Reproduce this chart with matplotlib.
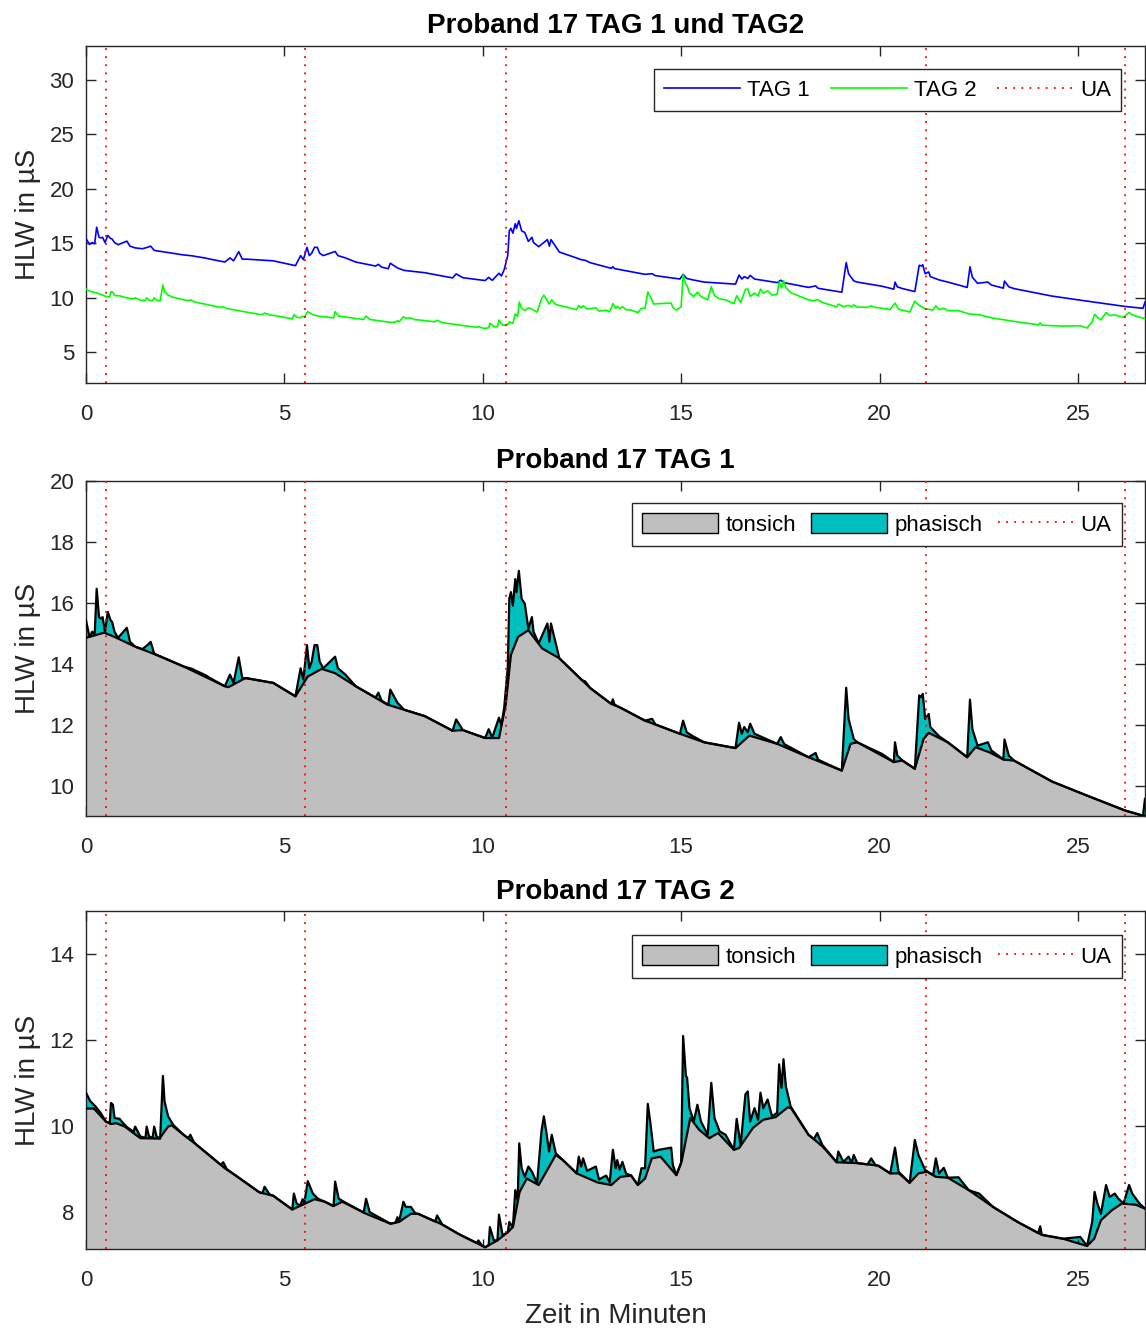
import numpy as np
import matplotlib
matplotlib.use("Agg")
import matplotlib.pyplot as plt
import matplotlib.patches as mpatches
from matplotlib.lines import Line2D

# =========================================================
# DATA
# =========================================================

UA_TIMES = [0.504, 5.52, 10.58, 21.17, 26.18]

# TAG 1 raw skin conductance
T1_RAW_T = [0.00, 0.09, 0.16, 0.22, 0.27, 0.33, 0.37, 0.42, 0.48, 0.55, 0.62, 0.66, 0.72, 0.81,
            1.03, 1.11, 1.24, 1.42, 1.55, 1.63, 1.72, 2.46, 2.68, 2.75, 3.02, 3.10, 3.50, 3.63,
            3.72, 3.85, 3.94, 4.07, 4.72, 5.28, 5.41, 5.48, 5.57, 5.63, 5.69, 5.76, 5.83, 5.89,
            5.98, 6.28, 6.35, 6.54, 6.72, 6.80, 7.30, 7.37, 7.45, 7.62, 7.67, 7.85, 8.02, 8.54,
            9.24, 9.33, 9.50, 10.06, 10.15, 10.24, 10.41, 10.47, 10.54, 10.63, 10.67, 10.71,
            10.76, 10.82, 10.85, 10.91, 10.98, 11.06, 11.15, 11.24, 11.28, 11.41, 11.63, 11.68,
            11.72, 11.81, 11.93, 12.50, 12.58, 12.71, 13.24, 13.28, 13.32, 13.48, 14.09, 14.27,
            14.35, 14.97, 15.05, 15.14, 15.27, 15.58, 16.37, 16.46, 16.53, 16.59, 16.68, 16.74,
            16.85, 17.42, 17.51, 17.60, 18.21, 18.39, 18.45, 19.05, 19.16, 19.22, 19.35, 19.44,
            20.06, 20.36, 20.39, 20.45, 20.58, 20.89, 21.00, 21.06, 21.09, 21.15, 21.24, 21.28,
            21.50, 21.72, 22.21, 22.28, 22.34, 22.47, 22.73, 22.82, 23.12, 23.15, 23.26, 23.39,
            24.35, 25.23, 26.19, 26.64, 26.69]
T1_RAW = [15.43, 14.88, 15.05, 14.94, 16.46, 15.53, 15.48, 15.53, 15.05, 15.70, 15.43, 15.37, 15.05, 14.85,
          15.18, 14.72, 14.56, 14.48, 14.61, 14.72, 14.33, 13.91, 13.83, 13.78, 13.62, 13.55, 13.26, 13.64,
          13.37, 14.21, 13.53, 13.52, 13.37, 12.93, 13.85, 13.48, 14.61, 13.85, 14.07, 14.61, 14.61, 14.07,
          13.85, 14.23, 13.85, 13.64, 13.38, 13.26, 12.89, 13.05, 12.79, 12.65, 13.15, 12.72, 12.49, 12.28,
          11.80, 12.17, 11.82, 11.56, 11.85, 11.58, 12.23, 11.98, 12.55, 13.85, 16.13, 16.35,
          15.91, 16.78, 16.35, 17.05, 16.13, 15.97, 15.15, 15.53, 15.05, 14.67, 15.32, 14.72,
          15.32, 14.83, 14.18, 13.46, 13.42, 13.20, 12.68, 12.83, 12.66, 12.55, 12.13, 12.19,
          12.01, 11.70, 12.13, 11.75, 11.64, 11.42, 11.23, 12.06, 11.70, 11.92, 11.75, 12.03,
          11.70, 11.37, 11.59, 11.36, 10.93, 11.07, 10.85, 10.49, 13.21, 12.19, 11.53, 11.42,
          11.04, 10.77, 11.42, 10.98, 10.82, 10.55, 12.96, 12.90, 13.01, 12.19, 12.35, 11.92,
          11.62, 11.42, 10.93, 12.82, 11.86, 11.31, 11.42, 11.15, 10.86, 11.51, 10.98, 10.82,
          10.13, 9.67, 9.18, 9.01, 9.56]

# TAG 1 tonic level
T1_TON_T = [0.00, 0.46, 0.72, 1.24, 1.68, 2.46, 3.50, 3.59, 4.02, 4.72, 5.28, 5.59, 5.94, 6.28,
            6.80, 7.59, 8.54, 9.24, 9.50, 10.06, 10.41, 10.58, 10.71, 10.89, 11.15, 11.50, 11.93,
            12.71, 13.24, 13.48, 14.09, 14.97, 15.58, 16.37, 16.72, 17.42, 18.21, 19.05, 19.27,
            19.44, 20.36, 20.58, 20.89, 21.11, 21.24, 21.72, 22.21, 22.42, 22.77, 23.13, 23.39,
            24.35, 25.23, 26.19, 26.64, 26.69]
T1_TON = [14.85, 15.02, 14.88, 14.56, 14.34, 13.91, 13.26, 13.23, 13.53, 13.37, 12.93, 13.58, 13.83, 13.69,
          13.26, 12.66, 12.28, 11.80, 11.82, 11.56, 11.56, 12.66, 14.29, 14.88, 15.10, 14.50, 14.18,
          13.20, 12.68, 12.55, 12.13, 11.70, 11.42, 11.23, 11.64, 11.37, 10.93, 10.49, 11.37,
          11.42, 10.77, 10.82, 10.55, 11.53, 11.73, 11.42, 10.93, 11.26, 11.09, 10.85, 10.82,
          10.13, 9.67, 9.18, 9.01, 9.01]

# TAG 2 raw skin conductance
T2_RAW_T = [0.00, 0.11, 0.24, 0.37, 0.50, 0.60, 0.63, 0.68, 0.72, 0.85, 0.90, 1.03, 1.20, 1.24,
            1.37, 1.50, 1.53, 1.59, 1.68, 1.72, 1.78, 1.87, 1.94, 1.98, 2.07, 2.20, 2.46, 2.58,
            2.63, 2.72, 2.81, 3.40, 3.46, 3.55, 3.76, 4.37, 4.45, 4.50, 4.63, 4.72, 5.20, 5.24,
            5.31, 5.40, 5.46, 5.50, 5.59, 5.72, 5.85, 6.02, 6.24, 6.28, 6.37, 6.54, 7.00, 7.06,
            7.15, 7.67, 7.80, 7.85, 7.89, 8.00, 8.06, 8.19, 8.30, 8.37, 8.80, 8.85, 8.98, 9.41,
            9.85, 9.89, 9.98, 10.06, 10.15, 10.18, 10.28, 10.37, 10.41, 10.50, 10.63, 10.67,
            10.76, 10.82, 10.88, 10.92, 10.98, 11.06, 11.15, 11.24, 11.37, 11.48, 11.54, 11.60,
            11.67, 11.74, 11.84, 12.02, 12.37, 12.42, 12.48, 12.53, 12.63, 12.85, 12.93, 13.11,
            13.20, 13.28, 13.35, 13.39, 13.45, 13.52, 13.61, 13.74, 13.91, 14.00, 14.09, 14.16,
            14.22, 14.31, 14.44, 14.75, 14.79, 14.88, 15.00, 15.05, 15.12, 15.15, 15.21, 15.32,
            15.41, 15.50, 15.67, 15.76, 15.84, 15.97, 16.12, 16.33, 16.40, 16.50, 16.62, 16.68,
            16.74, 16.85, 16.94, 17.00, 17.07, 17.18, 17.29, 17.42, 17.47, 17.53, 17.58, 17.64,
            17.76, 18.21, 18.35, 18.43, 18.56, 18.92, 18.96, 19.09, 19.22, 19.30, 19.35, 19.44,
            19.70, 19.79, 19.90, 19.97, 20.27, 20.39, 20.48, 20.76, 20.89, 20.98, 21.15, 21.35,
            21.42, 21.50, 21.62, 21.72, 21.99, 22.25, 22.51, 22.86, 23.48, 24.00, 24.05, 24.09,
            24.62, 25.06, 25.23, 25.36, 25.42, 25.49, 25.58, 25.71, 25.80, 25.93, 26.02, 26.15,
            26.29, 26.37, 26.55, 26.69]
T2_RAW = [10.77, 10.57, 10.45, 10.30, 10.10, 10.06, 10.53, 10.49, 10.18, 10.16, 10.10, 9.97, 9.86, 9.98,
          9.75, 9.72, 9.98, 9.75, 9.72, 9.98, 9.75, 9.70, 11.16, 10.57, 10.22, 10.02, 9.79, 9.71,
          9.79, 9.62, 9.54, 9.09, 9.15, 8.99, 8.85, 8.45, 8.43, 8.58, 8.40, 8.37, 8.05, 8.42,
          8.19, 8.14, 8.29, 8.18, 8.71, 8.42, 8.30, 8.23, 8.13, 8.70, 8.30, 8.21, 7.98, 8.30,
          7.99, 7.72, 7.74, 7.87, 7.76, 8.23, 8.11, 8.11, 7.96, 7.95, 7.77, 7.91, 7.70, 7.47,
          7.27, 7.33, 7.21, 7.17, 7.22, 7.64, 7.33, 7.33, 7.93, 7.45, 7.52, 7.76,
          7.64, 8.50, 8.26, 9.59, 9.01, 8.81, 9.05, 8.93, 8.66, 9.87, 10.22, 9.87,
          9.40, 9.79, 9.36, 9.20, 8.89, 9.28, 9.05, 9.24, 8.95, 9.05, 8.75, 8.84,
          8.68, 9.44, 9.01, 9.20, 8.98, 9.16, 8.89, 8.84, 8.62, 9.01, 9.01, 10.51,
          10.10, 9.40, 9.44, 9.49, 9.09, 8.85, 9.14, 12.09, 11.16, 11.12, 10.41, 10.10,
          10.49, 10.10, 9.79, 11.00, 10.18, 9.87, 9.79, 9.44, 10.16, 9.55, 10.73, 10.80,
          10.10, 10.41, 10.14, 10.77, 10.41, 10.61, 10.22, 10.30, 11.43, 10.88, 11.55, 10.92,
          10.45, 9.79, 9.69, 9.83, 9.55, 9.15, 9.40, 9.16, 9.28, 9.14, 9.32, 9.13,
          9.10, 9.24, 9.08, 9.07, 8.89, 9.49, 8.93, 8.67, 9.67, 9.32, 8.97, 8.85,
          9.24, 8.89, 9.02, 8.79, 8.80, 8.50, 8.42, 8.11, 7.76, 7.50, 7.66, 7.46,
          7.37, 7.41, 7.20, 7.76, 8.46, 8.19, 7.95, 8.62, 8.34, 8.42, 8.30, 8.19,
          8.62, 8.42, 8.19, 8.07]

# TAG 2 tonic level
T2_TON_T = [0.00, 0.20, 0.50, 0.63, 0.76, 0.98, 1.37, 1.85, 2.07, 2.16, 2.46, 2.81, 3.50, 3.76,
            4.37, 4.72, 5.20, 5.46, 5.76, 6.02, 6.24, 6.46, 7.06, 7.67, 7.89, 8.19, 8.37, 8.98,
            9.41, 10.06, 10.37, 10.63, 10.76, 10.93, 11.11, 11.41, 11.84, 12.02, 12.37, 12.89,
            13.24, 13.47, 13.74, 13.91, 14.09, 14.26, 14.48, 14.88, 15.01, 15.23, 15.45, 15.71,
            15.93, 16.33, 16.46, 16.81, 17.07, 17.38, 17.69, 17.77, 18.21, 18.56, 18.92, 19.44,
            19.97, 20.27, 20.49, 20.76, 20.98, 21.20, 21.42, 21.72, 22.25, 22.86, 23.48, 24.09,
            24.62, 25.23, 25.41, 25.58, 25.85, 26.11, 26.46, 26.69]
T2_TON = [10.40, 10.40, 10.10, 10.04, 10.06, 9.98, 9.71, 9.70, 9.98, 10.01, 9.79, 9.54, 9.01, 8.85,
          8.45, 8.37, 8.05, 8.16, 8.29, 8.23, 8.13, 8.23, 7.95, 7.72, 7.76, 7.95, 7.95, 7.70,
          7.47, 7.17, 7.33, 7.52, 7.64, 8.46, 8.77, 8.62, 9.32, 9.20, 8.89, 8.68,
          8.62, 8.81, 8.84, 8.62, 8.77, 9.24, 9.28, 8.85, 9.16, 10.18, 9.91, 9.71,
          9.83, 9.44, 9.48, 9.95, 10.14, 10.20, 10.43, 10.41, 9.79, 9.52, 9.15, 9.13,
          9.07, 8.89, 8.89, 8.67, 8.89, 8.93, 8.81, 8.79, 8.50, 8.11, 7.76, 7.46,
          7.37, 7.20, 7.37, 7.80, 8.03, 8.19, 8.16, 8.07]

# =========================================================
# STYLE
# =========================================================

FONT = "Liberation Sans"
BLUE = "#0000FF"
GREEN = "#00FF00"
RED = "#FF0000"
GRAY = "#BFBFBF"
CYAN = "#00BFBF"
AX_COLOR = "#262626"

XLIM = (0, 26.69)
UA_STYLE = dict(color=RED, linestyle=(0, (1, 3.5)), linewidth=1.3)
TITLE_PAD = 9

plt.rcParams["font.family"] = [FONT, "DejaVu Sans"]
plt.rcParams["axes.linewidth"] = 1.0

# =========================================================
# HELPERS
# =========================================================

def style_axes(ax, ylim, yticks):
    ax.set_xlim(*XLIM)
    ax.set_ylim(*ylim)
    ax.set_xticks([0, 5, 10, 15, 20, 25])
    ax.set_yticks(yticks)
    for sp in ax.spines.values():
        sp.set_color(AX_COLOR)
    ax.tick_params(axis="both", direction="in", top=True, right=True,
                   length=7, width=1.0, colors=AX_COLOR, labelsize=16,
                   labelcolor=AX_COLOR)
    ax.tick_params(axis="x", pad=15)
    ax.tick_params(axis="y", pad=8.5)
    ax.set_ylabel("HLW in µS", fontsize=20, color=AX_COLOR, labelpad=6)


def add_ua(ax):
    for t in UA_TIMES:
        ax.axvline(t, zorder=4, **UA_STYLE)


def legend_box(ax, handles, labels, anchor, colspace=0.68):
    leg = ax.legend(handles, labels, ncol=3, loc="upper right",
                    bbox_to_anchor=anchor, borderaxespad=0, fontsize=16,
                    frameon=True, fancybox=False, framealpha=1,
                    edgecolor=AX_COLOR, handlelength=3.42, handleheight=1.0,
                    handletextpad=0.32, columnspacing=colspace, borderpad=0.45)
    leg.get_frame().set_linewidth(1.0)
    return leg


def plot_split(ax, t_raw, raw, t_ton, ton, title, ylim, yticks, anchor):
    # phasic part = area under the raw curve, tonic drawn on top of it
    ax.fill_between(t_raw, raw, 0, color=CYAN, linewidth=0, zorder=1)
    ax.fill_between(t_ton, ton, 0, color=GRAY, linewidth=0, zorder=2)
    ax.plot(t_raw, raw, color="black", linewidth=1.6, zorder=3)
    ax.plot(t_ton, ton, color="black", linewidth=1.6, zorder=3)
    add_ua(ax)
    style_axes(ax, ylim, yticks)
    ax.set_title(title, fontsize=20, fontweight="bold", pad=TITLE_PAD)

    handles = [
        mpatches.Patch(facecolor=GRAY, edgecolor="black", linewidth=1.0),
        mpatches.Patch(facecolor=CYAN, edgecolor="black", linewidth=1.0),
        Line2D([], [], **UA_STYLE),
    ]
    legend_box(ax, handles, ["tonsich", "phasisch", "UA"], anchor)

# =========================================================
# FIGURE
# =========================================================

fig = plt.figure(figsize=(11.46, 13.29), dpi=100)

ax1 = fig.add_axes([0.0750, 0.7118, 0.9241, 0.2536])
ax2 = fig.add_axes([0.0750, 0.3860, 0.9241, 0.2521])
ax3 = fig.add_axes([0.0750, 0.0602, 0.9241, 0.2543])

# ---- top: both days raw ----
ax1.plot(T1_RAW_T, T1_RAW, color=BLUE, linewidth=1.2, zorder=3)
ax1.plot(T2_RAW_T, T2_RAW, color=GREEN, linewidth=1.2, zorder=3)
add_ua(ax1)
style_axes(ax1, (2.15, 33.1), [5, 10, 15, 20, 25, 30])
ax1.set_title("Proband 17 TAG 1 und TAG2", fontsize=20, fontweight="bold", pad=TITLE_PAD)
legend_box(
    ax1,
    [Line2D([], [], color=BLUE, linewidth=1.2),
     Line2D([], [], color=GREEN, linewidth=1.2),
     Line2D([], [], **UA_STYLE)],
    ["TAG 1", "TAG 2", "UA"],
    (0.9773, 0.932),
    colspace=0.92,
)

# ---- middle / bottom: tonic + phasic ----
plot_split(ax2, T1_RAW_T, T1_RAW, T1_TON_T, T1_TON, "Proband 17 TAG 1",
           (9, 20), [10, 12, 14, 16, 18, 20], (0.978, 0.933))
plot_split(ax3, T2_RAW_T, T2_RAW, T2_TON_T, T2_TON, "Proband 17 TAG 2",
           (7.13, 15), [8, 10, 12, 14], (0.978, 0.929))
ax3.set_xlabel("Zeit in Minuten", fontsize=20, color=AX_COLOR, labelpad=9)

fig.savefig("out.png", dpi=100)
